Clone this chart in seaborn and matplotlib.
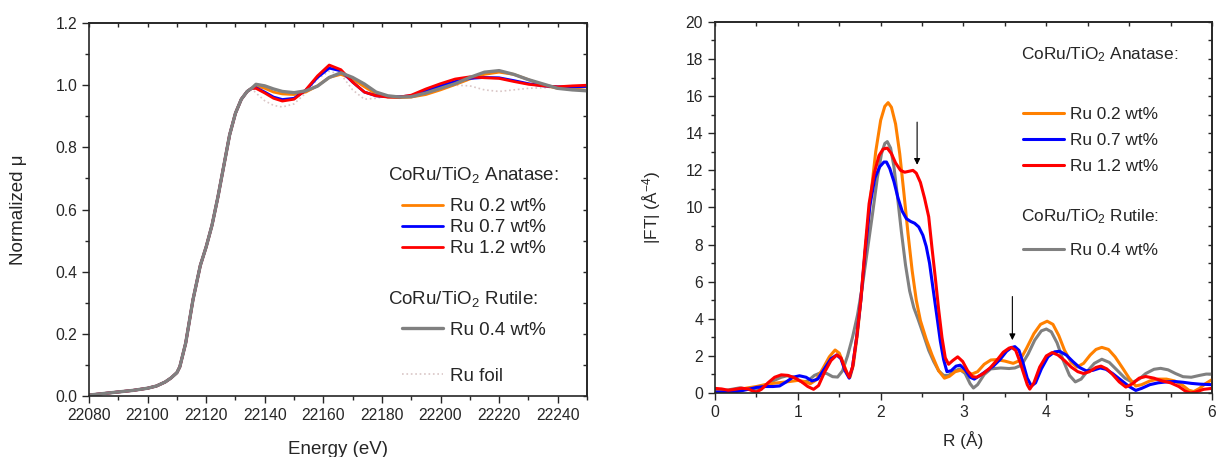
"""
Ru K-edge XANES (left) and Fourier-transformed EXAFS (right)
for CoRu/TiO2 catalysts, recreated with seaborn / matplotlib.
"""

import numpy as np
import pandas as pd
import matplotlib
matplotlib.use("Agg")
import matplotlib.pyplot as plt
from matplotlib.ticker import MultipleLocator
import seaborn as sns

# ---------------- XANES data ----------------
# rising edge, shared by all samples
e_edge = [22080, 22085, 22090, 22095, 22100, 22103, 22106, 22108, 22110, 22111,
          22113, 22115.5, 22118, 22120, 22122, 22124, 22126, 22128, 22130, 22132, 22134, 22135.5]
mu_edge = [0.003, 0.008, 0.013, 0.018, 0.025, 0.032, 0.045, 0.058, 0.075, 0.094,
           0.17, 0.31, 0.42, 0.48, 0.55, 0.64, 0.74, 0.84, 0.91, 0.955, 0.98, 0.99]

# post-edge region
e_post = [22137, 22140, 22143, 22146, 22150, 22154, 22158, 22162, 22166, 22170,
          22174, 22178, 22182, 22186, 22190, 22195, 22200, 22205, 22210, 22215,
          22220, 22225, 22230, 22235, 22240, 22245, 22250]
mu_ru02 = [0.998, 0.99, 0.978, 0.972, 0.970, 0.978, 0.998, 1.025, 1.035, 1.020,
           0.995, 0.972, 0.962, 0.960, 0.962, 0.970, 0.985, 1.002, 1.020, 1.035,
           1.042, 1.035, 1.018, 1.000, 0.990, 0.990, 0.995]
mu_ru07 = [0.992, 0.978, 0.962, 0.954, 0.958, 0.984, 1.025, 1.055, 1.046, 1.010,
           0.978, 0.966, 0.963, 0.963, 0.966, 0.982, 0.998, 1.012, 1.022, 1.025,
           1.024, 1.015, 1.005, 0.998, 0.995, 0.995, 0.996]
mu_ru12 = [0.990, 0.975, 0.958, 0.949, 0.955, 0.985, 1.030, 1.065, 1.050, 1.010,
           0.978, 0.966, 0.962, 0.962, 0.968, 0.988, 1.005, 1.020, 1.027, 1.024,
           1.022, 1.012, 1.003, 0.998, 0.995, 0.998, 1.000]
mu_ru04 = [1.003, 0.998, 0.988, 0.980, 0.976, 0.982, 0.997, 1.025, 1.040, 1.025,
           1.004, 0.978, 0.966, 0.962, 0.963, 0.975, 0.990, 1.005, 1.025, 1.042,
           1.047, 1.035, 1.018, 1.004, 0.990, 0.985, 0.982]
mu_foil = [0.975, 0.950, 0.935, 0.930, 0.940, 0.975, 1.020, 1.045, 1.035, 0.985,
           0.955, 0.958, 0.965, 0.965, 0.968, 0.978, 0.990, 1.000, 0.998, 0.985,
           0.980, 0.985, 0.990, 0.992, 0.993, 0.995, 0.996]

# ---------------- FT-EXAFS data ----------------
r_ru02 = [0.00, 0.10, 0.20, 0.30, 0.40, 0.50, 0.60, 0.70, 0.80, 0.90, 1.00, 1.08, 1.15, 1.22,
          1.30, 1.38, 1.45, 1.50, 1.55, 1.60, 1.63, 1.67, 1.72, 1.77, 1.82, 1.88, 1.94, 2.00,
          2.05, 2.09, 2.13, 2.18, 2.23, 2.28, 2.33, 2.38, 2.43, 2.48, 2.55, 2.62, 2.70, 2.77,
          2.83, 2.90, 2.96, 3.03, 3.10, 3.17, 3.25, 3.33, 3.40, 3.50, 3.60, 3.68, 3.76, 3.85,
          3.93, 4.01, 4.08, 4.15, 4.22, 4.30, 4.37, 4.45, 4.53, 4.60, 4.67, 4.75, 4.83, 4.92,
          5.00, 5.08, 5.15, 5.25, 5.35, 5.45, 5.55, 5.65, 5.72, 5.78, 5.85, 5.92, 6.00]
ft_ru02 = [0.05, 0.05, 0.10, 0.20, 0.28, 0.35, 0.45, 0.52, 0.57, 0.62, 0.68, 0.62, 0.50, 0.70,
           1.30, 1.95, 2.32, 2.15, 1.60, 1.00, 0.85, 1.50, 3.20, 5.40, 7.90, 10.6, 13.0, 14.7,
           15.45, 15.65, 15.4, 14.5, 12.9, 10.8, 8.6, 6.6, 5.0, 3.9, 2.9, 2.05, 1.20, 0.80,
           0.90, 1.15, 1.22, 1.15, 1.02, 1.15, 1.55, 1.78, 1.80, 1.72, 1.60, 1.75, 2.40, 3.20,
           3.70, 3.87, 3.70, 3.10, 2.30, 1.65, 1.40, 1.60, 2.05, 2.35, 2.46, 2.35, 1.95, 1.35,
           0.80, 0.38, 0.45, 0.65, 0.75, 0.75, 0.65, 0.40, 0.15, 0.08, 0.25, 0.50, 0.72]

r_ru07 = [0.00, 0.10, 0.20, 0.30, 0.40, 0.50, 0.60, 0.70, 0.78, 0.86, 0.94, 1.02, 1.10, 1.17,
          1.24, 1.32, 1.40, 1.47, 1.52, 1.57, 1.62, 1.66, 1.71, 1.76, 1.81, 1.87, 1.93, 1.99,
          2.04, 2.07, 2.11, 2.16, 2.21, 2.26, 2.31, 2.36, 2.41, 2.46, 2.51, 2.55, 2.59, 2.63,
          2.68, 2.72, 2.76, 2.80, 2.85, 2.91, 2.96, 3.02, 3.08, 3.13, 3.20, 3.28, 3.36, 3.44,
          3.52, 3.58, 3.62, 3.67, 3.72, 3.77, 3.82, 3.87, 3.94, 4.02, 4.10, 4.16, 4.24, 4.32,
          4.40, 4.48, 4.56, 4.65, 4.72, 4.80, 4.90, 5.00, 5.08, 5.15, 5.25, 5.35, 5.45, 5.55,
          5.65, 5.75, 5.85, 6.00]
ft_ru07 = [0.05, 0.05, 0.05, 0.10, 0.20, 0.30, 0.35, 0.35, 0.38, 0.60, 0.85, 0.93, 0.85, 0.65,
           0.75, 1.30, 1.85, 2.05, 1.85, 1.20, 0.80, 1.40, 3.00, 5.00, 7.50, 10.1, 11.6, 12.2,
           12.45, 12.45, 12.1, 11.4, 10.5, 9.8, 9.4, 9.25, 9.15, 8.95, 8.5, 7.9, 7.0, 5.7,
           4.1, 2.8, 1.8, 1.15, 1.20, 1.45, 1.50, 1.25, 0.85, 0.75, 0.95, 1.20, 1.45, 1.80,
           2.25, 2.45, 2.50, 2.30, 1.60, 0.80, 0.38, 0.55, 1.30, 1.95, 2.22, 2.25, 2.05, 1.70,
           1.38, 1.20, 1.22, 1.35, 1.28, 1.05, 0.70, 0.35, 0.14, 0.25, 0.45, 0.55, 0.60, 0.62,
           0.58, 0.52, 0.48, 0.45]

r_ru12 = [0.00, 0.08, 0.16, 0.24, 0.32, 0.40, 0.46, 0.50, 0.56, 0.64, 0.72, 0.80, 0.88, 0.96,
          1.04, 1.12, 1.19, 1.25, 1.32, 1.40, 1.47, 1.52, 1.57, 1.62, 1.66, 1.71, 1.76, 1.81,
          1.86, 1.92, 1.98, 2.03, 2.08, 2.13, 2.18, 2.24, 2.29, 2.34, 2.39, 2.43, 2.48, 2.53,
          2.58, 2.62, 2.66, 2.70, 2.74, 2.78, 2.82, 2.87, 2.93, 2.99, 3.05, 3.11, 3.16, 3.24,
          3.32, 3.40, 3.48, 3.55, 3.58, 3.63, 3.68, 3.73, 3.77, 3.80, 3.85, 3.92, 4.00, 4.07,
          4.14, 4.22, 4.30, 4.38, 4.45, 4.52, 4.60, 4.66, 4.73, 4.80, 4.88, 4.96, 5.04, 5.12,
          5.20, 5.30, 5.40, 5.50, 5.60, 5.68, 5.74, 5.80, 5.90, 6.00]
ft_ru12 = [0.25, 0.22, 0.15, 0.20, 0.26, 0.22, 0.10, 0.05, 0.20, 0.55, 0.85, 0.98, 0.95, 0.82,
           0.62, 0.35, 0.20, 0.40, 1.10, 1.75, 2.05, 1.90, 1.30, 0.85, 1.40, 3.00, 5.00, 7.70,
           10.2, 11.8, 12.8, 13.15, 13.2, 12.9, 12.4, 12.0, 11.9, 11.95, 12.0, 11.85, 11.35, 10.5,
           9.5, 7.8, 6.2, 4.5, 3.0, 1.90, 1.55, 1.75, 1.95, 1.70, 1.20, 0.88, 0.85, 1.05,
           1.35, 1.75, 2.20, 2.42, 2.46, 2.30, 1.70, 1.00, 0.45, 0.21, 0.55, 1.40, 2.00, 2.18,
           2.05, 1.75, 1.40, 1.15, 1.05, 1.15, 1.38, 1.45, 1.30, 1.00, 0.60, 0.32, 0.50, 0.80,
           0.89, 0.80, 0.65, 0.55, 0.35, 0.10, 0.00, 0.05, 0.20, 0.25]

r_ru04 = [0.00, 0.10, 0.20, 0.30, 0.40, 0.50, 0.60, 0.70, 0.80, 0.87, 0.95, 1.05, 1.12, 1.20,
          1.28, 1.35, 1.42, 1.48, 1.54, 1.60, 1.66, 1.72, 1.78, 1.84, 1.90, 1.96, 2.01, 2.05,
          2.08, 2.12, 2.16, 2.20, 2.25, 2.30, 2.35, 2.40, 2.45, 2.52, 2.58, 2.64, 2.70, 2.76,
          2.82, 2.88, 2.95, 3.02, 3.08, 3.12, 3.17, 3.25, 3.33, 3.45, 3.55, 3.62, 3.70, 3.78,
          3.86, 3.94, 4.00, 4.06, 4.13, 4.20, 4.28, 4.35, 4.42, 4.50, 4.58, 4.67, 4.76, 4.85,
          4.95, 5.04, 5.12, 5.20, 5.30, 5.38, 5.47, 5.56, 5.65, 5.75, 5.85, 5.93, 6.00]
ft_ru04 = [0.10, 0.12, 0.20, 0.28, 0.20, 0.12, 0.35, 0.65, 0.85, 0.93, 0.85, 0.60, 0.65, 0.95,
           1.10, 1.05, 0.88, 0.86, 1.20, 2.00, 3.00, 4.20, 5.80, 7.70, 9.60, 11.6, 12.9, 13.45,
           13.55, 13.2, 12.2, 10.7, 8.7, 6.9, 5.5, 4.6, 4.0, 3.1, 2.3, 1.70, 1.20, 0.95,
           0.95, 1.15, 1.30, 1.05, 0.50, 0.27, 0.45, 1.00, 1.30, 1.35, 1.32, 1.35, 1.50, 2.10,
           2.85, 3.35, 3.45, 3.30, 2.70, 1.80, 0.95, 0.60, 0.75, 1.20, 1.60, 1.82, 1.65, 1.25,
           0.80, 0.57, 0.75, 1.05, 1.28, 1.33, 1.25, 1.05, 0.88, 0.85, 0.95, 1.02, 1.02]

# arrows marking the Ru-Ru contributions (R, start, end)
arrow_1 = (2.44, 14.6, 12.3)
arrow_2 = (3.59, 5.2, 2.85)

labels = ["Ru 0.2 wt%", "Ru 0.7 wt%", "Ru 1.2 wt%", "Ru 0.4 wt%", "Ru foil"]
colors = ["#FF8000", "#0000FF", "#FF0000", "#808080", "#D9C6C6"]

# ---------------- style ----------------
sns.set_style("ticks")
plt.rcParams["font.family"] = ["Liberation Sans", "DejaVu Sans"]
plt.rcParams["mathtext.fontset"] = "custom"
plt.rcParams["mathtext.rm"] = "Liberation Sans"
plt.rcParams["mathtext.it"] = "Liberation Sans:italic"

fig = plt.figure(figsize=(12.16, 4.57), dpi=100)
ax1 = fig.add_axes([0.0732, 0.1335, 0.4095, 0.816])
ax2 = fig.add_axes([0.588, 0.140, 0.4087, 0.812])


def style_axis(ax, xmaj, xmin, ymaj, ymin, tick_fs):
    ax.xaxis.set_major_locator(MultipleLocator(xmaj))
    ax.xaxis.set_minor_locator(MultipleLocator(xmin))
    ax.yaxis.set_major_locator(MultipleLocator(ymaj))
    ax.yaxis.set_minor_locator(MultipleLocator(ymin))
    ax.tick_params(which="major", direction="out", length=5, width=1, labelsize=tick_fs)
    ax.tick_params(which="minor", direction="out", length=3, width=1)
    for sp in ax.spines.values():
        sp.set_linewidth(1.2)
    # inward ticks on top and right, no labels
    top = ax.secondary_xaxis("top")
    right = ax.secondary_yaxis("right")
    top.xaxis.set_major_locator(MultipleLocator(xmaj))
    top.xaxis.set_minor_locator(MultipleLocator(xmin))
    right.yaxis.set_major_locator(MultipleLocator(ymaj))
    right.yaxis.set_minor_locator(MultipleLocator(ymin))
    for sec in (top, right):
        sec.tick_params(which="both", direction="in", length=3, width=1,
                        labeltop=False, labelright=False)
        for sp in sec.spines.values():
            sp.set_linewidth(1.2)


# ---------------- left: XANES ----------------
xanes = []
for lab, mu in zip(labels, [mu_ru02, mu_ru07, mu_ru12, mu_ru04, mu_foil]):
    xanes.append(pd.DataFrame({"E": e_edge + e_post, "mu": mu_edge + mu,
                               "sample": lab}))
xanes = pd.concat(xanes, ignore_index=True)

lw_left = {"Ru foil": 1.2, "Ru 0.4 wt%": 2.4}
draw_order = ["Ru foil", "Ru 0.2 wt%", "Ru 0.7 wt%", "Ru 1.2 wt%", "Ru 0.4 wt%"]
handles = {}
for lab in draw_order:
    d = xanes[xanes["sample"] == lab]
    col = colors[labels.index(lab)]
    sns.lineplot(data=d, x="E", y="mu", ax=ax1, color=col, sort=False,
                 lw=lw_left.get(lab, 2.0), ls=":" if lab == "Ru foil" else "-",
                 label=lab, legend=False)
    handles[lab] = ax1.lines[-1]

ax1.set_xlim(22080, 22250)
ax1.set_ylim(0, 1.2)
style_axis(ax1, 20, 10, 0.2, 0.1, 11.3)
ax1.yaxis.set_major_formatter(matplotlib.ticker.FormatStrFormatter("%.1f"))
ax1.set_xlabel("Energy (eV)", fontsize=13.5, labelpad=13)
ax1.set_ylabel("Normalized \u03bc", fontsize=13.5, labelpad=20)

fs_l = 13.5
ax1.text(0.600, 0.593, "CoRu/TiO$_2$ Anatase:", transform=ax1.transAxes,
         fontsize=fs_l, va="center", ha="left")
ax1.text(0.600, 0.261, "CoRu/TiO$_2$ Rutile:", transform=ax1.transAxes,
         fontsize=fs_l, va="center", ha="left")
leg_kw = dict(frameon=False, loc="upper left", borderpad=0, borderaxespad=0,
              handlelength=2.18, handletextpad=0.37, fontsize=fs_l, labelspacing=0.21)
lg1 = ax1.legend([handles[l] for l in labels[:3]], labels[:3],
                 bbox_to_anchor=(0.628, 0.531), **leg_kw)
ax1.add_artist(lg1)
lg2 = ax1.legend([handles["Ru 0.4 wt%"]], ["Ru 0.4 wt%"],
                 bbox_to_anchor=(0.628, 0.199), **leg_kw)
ax1.add_artist(lg2)
ax1.legend([handles["Ru foil"]], ["Ru foil"],
           bbox_to_anchor=(0.628, 0.076), **leg_kw)

# ---------------- right: FT-EXAFS ----------------
ft = pd.concat([
    pd.DataFrame({"R": r_ru02, "FT": ft_ru02, "sample": labels[0]}),
    pd.DataFrame({"R": r_ru07, "FT": ft_ru07, "sample": labels[1]}),
    pd.DataFrame({"R": r_ru12, "FT": ft_ru12, "sample": labels[2]}),
    pd.DataFrame({"R": r_ru04, "FT": ft_ru04, "sample": labels[3]}),
], ignore_index=True)

handles2 = {}
for lab in ["Ru 0.4 wt%", "Ru 0.2 wt%", "Ru 0.7 wt%", "Ru 1.2 wt%"]:
    d = ft[ft["sample"] == lab]
    sns.lineplot(data=d, x="R", y="FT", ax=ax2, color=colors[labels.index(lab)],
                 sort=False, lw=2.2, legend=False)
    handles2[lab] = ax2.lines[-1]

for r, y0, y1 in (arrow_1, arrow_2):
    ax2.annotate("", xy=(r, y1), xytext=(r, y0),
                 arrowprops=dict(arrowstyle="-|>", color="black", lw=0.8,
                                 mutation_scale=9, shrinkA=0, shrinkB=0))

ax2.set_xlim(0, 6)
ax2.set_ylim(0, 20)
style_axis(ax2, 1, 0.5, 2, 1, 11.3)
ax2.set_xlabel("R (\u00c5)", fontsize=12.4, labelpad=8)
ax2.set_ylabel("|FT| (\u00c5$^{-4}$)", fontsize=12.4, labelpad=16)

fs_r = 12.4
ax2.text(0.616, 0.911, "CoRu/TiO$_2$ Anatase:", transform=ax2.transAxes,
         fontsize=fs_r, va="center", ha="left")
ax2.text(0.616, 0.474, "CoRu/TiO$_2$ Rutile:", transform=ax2.transAxes,
         fontsize=fs_r, va="center", ha="left")
leg_kw2 = dict(frameon=False, loc="upper left", borderpad=0, borderaxespad=0,
               handlelength=2.38, handletextpad=0.35, fontsize=fs_r, labelspacing=0.65)
lg3 = ax2.legend([handles2[l] for l in labels[:3]], labels[:3],
                 bbox_to_anchor=(0.620, 0.771), **leg_kw2)
ax2.add_artist(lg3)
ax2.legend([handles2["Ru 0.4 wt%"]], ["Ru 0.4 wt%"],
           bbox_to_anchor=(0.620, 0.404), **leg_kw2)

fig.savefig("out.png", dpi=100)
